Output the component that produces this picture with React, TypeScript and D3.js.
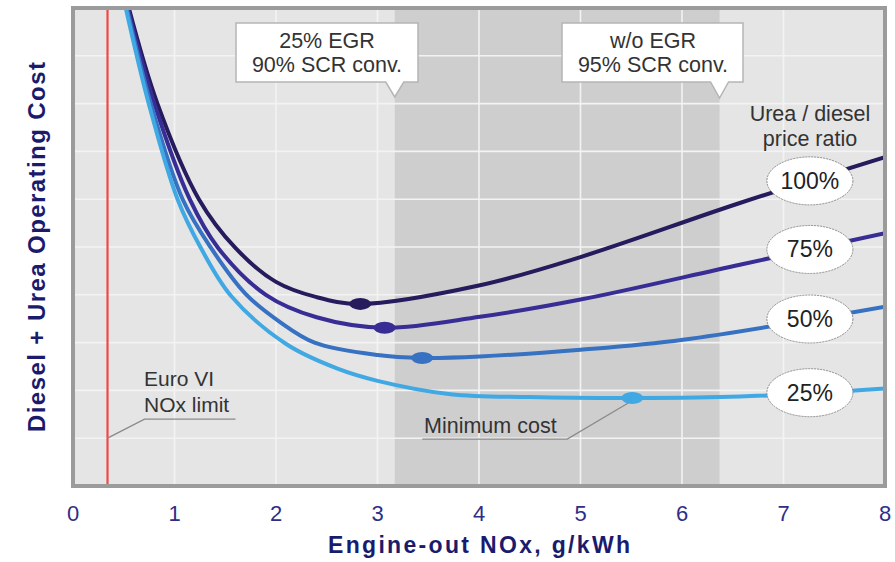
import React from "react";
import * as d3 from "d3";

// Engine-out NOx (g/kWh) vs. relative operating cost, one curve per urea/diesel price ratio
const series100: [number, number][] = [[0.55, 10.0], [0.83, 8.01], [1.24, 6.0], [1.6, 4.98], [2.0, 4.27], [2.4, 3.95], [2.83, 3.81], [4.01, 4.2], [5.0, 4.79], [6.57, 5.92], [8.0, 6.88]];
const series75: [number, number][] = [[0.54, 10.0], [0.8, 8.01], [1.15, 6.0], [1.43, 4.98], [1.9, 4.0], [2.4, 3.53], [3.07, 3.31], [4.01, 3.54], [5.0, 3.9], [6.57, 4.63], [8.0, 5.29]];
const series50: [number, number][] = [[0.53, 10.0], [0.765, 8.01], [1.08, 6.0], [1.36, 4.98], [1.7, 4.02], [2.04, 3.43], [2.38, 3.0], [3.0, 2.74], [3.44, 2.68], [4.01, 2.71], [5.0, 2.85], [6.01, 3.06], [8.0, 3.75]];
const series25: [number, number][] = [[0.52, 10.0], [0.745, 8.01], [1.03, 6.0], [1.26, 4.98], [1.56, 3.97], [2.1, 2.97], [2.6, 2.46], [3.0, 2.2], [3.72, 1.92], [4.5, 1.86], [5.51, 1.84], [6.57, 1.87], [8.0, 2.04]];

const seriesData = [series100, series75, series50, series25];
const ratioLabels = ["100%", "75%", "50%", "25%"];
const seriesColors = ["#261b5c", "#372d94", "#3771c2", "#40a8e3"];

// Minimum-cost operating point of each curve
const minNox = [2.83, 3.07, 3.44, 5.51];
const minCost = [3.81, 3.31, 2.68, 1.84];

const xTicks = [0, 1, 2, 3, 4, 5, 6, 7, 8];
const yGrid = [1, 2, 3, 4, 5, 6, 7, 8, 9];
const euroVILimit = 0.34;
const egrRange = [3.17, 6.37];
const ratioLabelNox = 7.26;

const W = 895;
const H = 562;
const left = 73, right = 885, top = 8, bottom = 486;
const font = "'Liberation Sans', Arial, sans-serif";

function valueAt(data: [number, number][], x: number) {
  for (let i = 1; i < data.length; i++) {
    if (data[i][0] >= x) {
      const [x0, y0] = data[i - 1];
      const [x1, y1] = data[i];
      return y0 + ((y1 - y0) * (x - x0)) / (x1 - x0);
    }
  }
  return data[data.length - 1][1];
}

function calloutPath(x0: number, y0: number, x1: number, y1: number, tx: number, ty: number) {
  return `M${x0},${y0}H${x1}V${y1}H${tx + 9}L${tx},${ty}L${tx - 9},${y1}H${x0}Z`;
}

export default function App() {
  const x = d3.scaleLinear().domain([0, 8]).range([left, right]);
  const y = d3.scaleLinear().domain([0, 10]).range([bottom, top]);
  const line = d3
    .line<[number, number]>()
    .x((d) => x(d[0]))
    .y((d) => y(d[1]))
    .curve(d3.curveCatmullRom.alpha(0.5));

  const tip1 = x(egrRange[0]);
  const tip2 = x(egrRange[1]);

  return (
    <svg width={W} height={H} style={{ position: "absolute", left: 0, top: 0, fontFamily: font }}>
      <defs>
        <clipPath id="plot-clip">
          <rect x={left} y={top} width={right - left} height={bottom - top} />
        </clipPath>
      </defs>
      <rect x={0} y={0} width={W} height={H} fill="#ffffff" />
      <rect x={left} y={top} width={right - left} height={bottom - top} fill="#e5e5e5" />
      <rect x={x(egrRange[0])} y={top} width={x(egrRange[1]) - x(egrRange[0])} height={bottom - top} fill="#cecece" />

      {yGrid.map((v) => (
        <line key={"h" + v} x1={left} x2={right} y1={y(v)} y2={y(v)} stroke="#f3f3f3" strokeWidth={1.6} />
      ))}
      {xTicks.slice(1, -1).map((v) => (
        <line key={"v" + v} x1={x(v)} x2={x(v)} y1={top} y2={bottom} stroke="#f3f3f3" strokeWidth={1.6} />
      ))}

      <line x1={x(euroVILimit)} x2={x(euroVILimit)} y1={top} y2={bottom} stroke="#f04848" strokeWidth={2.2} />

      <g clipPath="url(#plot-clip)">
        {seriesData.map((s, i) => (
          <path key={i} d={line(s) || ""} fill="none" stroke={seriesColors[i]} strokeWidth={4} strokeLinecap="round" />
        ))}
        {minNox.map((n, i) => (
          <ellipse key={"m" + i} cx={x(n)} cy={y(minCost[i])} rx={11} ry={6} fill={seriesColors[i]} />
        ))}
      </g>

      {/* Euro VI limit annotation */}
      <polyline
        points={`${x(euroVILimit)},${y(1.0)} ${x(euroVILimit) + 37},${y(1.0) - 19} ${x(euroVILimit) + 128},${y(1.0) - 19}`}
        fill="none"
        stroke="#8a8a8a"
        strokeWidth={1.3}
      />
      <text x={144} y={386} fontSize={21} fill="#333">Euro VI</text>
      <text x={144} y={412} fontSize={21} fill="#333">NOx limit</text>

      {/* Minimum cost annotation */}
      <polyline
        points={`${x(minNox[3]) - 4},${y(minCost[3]) + 5} ${x(minNox[3]) - 65},${y(minCost[3]) + 41} ${x(minNox[3]) - 210},${y(minCost[3]) + 41}`}
        fill="none"
        stroke="#8a8a8a"
        strokeWidth={1.3}
      />
      <text x={424} y={433} fontSize={21.5} fill="#333">Minimum cost</text>

      {/* EGR strategy callouts */}
      <path d={calloutPath(236, 23, 418, 82, tip1, 97)} fill="#ffffff" stroke="#b5b5b5" strokeWidth={1.5} />
      <text x={327} y={48} fontSize={21.5} fill="#333" textAnchor="middle">25% EGR</text>
      <text x={327} y={72} fontSize={21.5} fill="#333" textAnchor="middle">90% SCR conv.</text>
      <path d={calloutPath(562, 23, 743, 82, tip2, 98)} fill="#ffffff" stroke="#b5b5b5" strokeWidth={1.5} />
      <text x={653} y={48} fontSize={21.5} fill="#333" textAnchor="middle">w/o EGR</text>
      <text x={653} y={72} fontSize={21.5} fill="#333" textAnchor="middle">95% SCR conv.</text>

      <text x={810} y={121} fontSize={21.5} fill="#333" textAnchor="middle">Urea / diesel</text>
      <text x={810} y={146} fontSize={21.5} fill="#333" textAnchor="middle">price ratio</text>

      {seriesData.map((s, i) => {
        const cy = y(valueAt(s, ratioLabelNox));
        return (
          <g key={"lab" + i}>
            <ellipse cx={x(ratioLabelNox)} cy={cy} rx={43} ry={24} fill="#ffffff" stroke="#8c8c8c" strokeWidth={1} strokeDasharray="2,1" />
            <text x={x(ratioLabelNox)} y={cy + 8} fontSize={23} fill="#222" textAnchor="middle">{ratioLabels[i]}</text>
          </g>
        );
      })}

      <rect x={left} y={top} width={right - left} height={bottom - top} fill="none" stroke="#9b9b9b" strokeWidth={4} />

      {xTicks.map((t) => (
        <text key={"t" + t} x={x(t)} y={521} fontSize={22} fill="#2e2e86" textAnchor="middle">{t}</text>
      ))}

      <text x={479} y={553} fontSize={23} fontWeight="bold" fill="#1b1b6e" textAnchor="middle" textLength={302} lengthAdjust="spacing">
        Engine-out NOx, g/kWh
      </text>
      <text
        transform={`translate(45,247) rotate(-90)`}
        fontSize={24}
        fontWeight="bold"
        fill="#1b1b6e"
        textAnchor="middle"
        textLength={370}
        lengthAdjust="spacing"
      >
        Diesel + Urea Operating Cost
      </text>
    </svg>
  );
}
